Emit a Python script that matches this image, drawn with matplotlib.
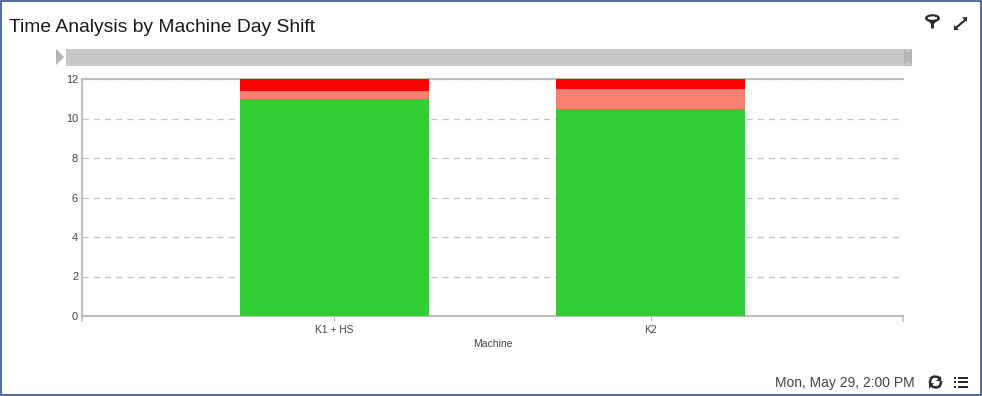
import matplotlib
matplotlib.use("Agg")
import matplotlib.pyplot as plt
from matplotlib.patches import Rectangle, Polygon, Ellipse

plt.rcParams['font.family'] = ['Liberation Sans', 'DejaVu Sans']

machines = ["K1 + HS", "K2"]
green_vals = [11.0, 10.5]
salmon_vals = [0.37, 1.0]
red_vals = [0.63, 0.5]
y_ticks = [0, 2, 4, 6, 8, 10, 12]

W, H = 982, 396
fig = plt.figure(figsize=(W / 100, H / 100), dpi=100, facecolor='white')

# pixel-space overlay for the widget furniture
ov = fig.add_axes([0, 0, 1, 1], zorder=0)
ov.set_xlim(0, W)
ov.set_ylim(H, 0)
ov.axis('off')

frame = '#34548a'
ov.add_patch(Rectangle((0.7, 0.7), W - 1.4, H - 1.4, fill=False, ec=frame, lw=1.2))

ov.text(9, 32, "Time Analysis by Machine Day Shift", fontsize=13.9, color='#1a1a1a',
        va='baseline', ha='left')
ov.text(915, 387, "Mon, May 29, 2:00 PM", fontsize=10.0, color='#444444',
        va='baseline', ha='right')

# range slider
gray = '#c8c8c8'
ov.add_patch(Rectangle((66, 48.5), 846, 17, fc=gray, ec='none'))
ov.add_patch(Polygon([(56, 49), (64, 57), (56, 65)], fc='#b4b4b4', ec='none'))
ov.add_patch(Rectangle((904, 48.5), 8, 17, fc='#b4b4b4', ec='none'))
ov.add_patch(Polygon([(904, 49), (908, 53), (912, 49)], fc=gray, ec='none'))
ov.add_patch(Polygon([(904, 65), (908, 61), (912, 65)], fc=gray, ec='none'))

icon = '#2b2b2b'
# filter icon
ov.add_patch(Ellipse((932.5, 18.2), 12.5, 5.6, fc='none', ec=icon, lw=1.7))
ov.add_patch(Polygon([(926.5, 19), (938.5, 19), (934, 24), (934, 28.5), (931, 28.5), (931, 24)],
                     fc=icon, ec='none'))
ov.add_patch(Ellipse((932.5, 18.2), 9, 3.2, fc='white', ec='none'))
# expand icon
ov.plot([957, 965], [27, 20], color=icon, lw=1.5)
ov.add_patch(Polygon([(954, 30), (954, 25), (959, 30)], fc=icon, ec='none'))
ov.add_patch(Polygon([(967, 17), (967, 22), (962, 17.5)], fc=icon, ec='none'))
# refresh icon
ov.plot([930, 931, 934, 938, 940], [382, 378, 376.5, 377, 379], color=icon, lw=1.8)
ov.plot([941, 940, 937, 933, 931], [382, 386, 387.5, 387, 385], color=icon, lw=1.8)
ov.add_patch(Polygon([(941.5, 375.5), (941.5, 381), (936.5, 381)], fc=icon, ec='none'))
ov.add_patch(Polygon([(929.5, 388.5), (929.5, 383), (934.5, 383)], fc=icon, ec='none'))
# list icon
for yy in (377.5, 382, 386.5):
    ov.add_patch(Rectangle((954, yy - 1), 2.4, 2.4, fc=icon, ec='none'))
    ov.add_patch(Rectangle((958, yy - 0.8), 10, 1.8, fc=icon, ec='none'))

# chart
L, R, T, B = 82, 903, 79, 316
ax = fig.add_axes([L / W, 1 - B / H, (R - L) / W, (B - T) / H], zorder=1)
ax.patch.set_alpha(0)
x = list(range(len(machines)))
w = 0.598
bot2 = [g + s for g, s in zip(green_vals, salmon_vals)]
ax.bar(x, green_vals, w, color='#32cd32', zorder=3)
ax.bar(x, salmon_vals, w, bottom=green_vals, color='#fa8072', zorder=3)
ax.bar(x, red_vals, w, bottom=bot2, color='#ff0000', zorder=3)

ax.set_xlim(-0.799, 1.799)
ax.set_ylim(0, 12)
ax.set_xticks(x, machines)
ax.set_yticks(y_ticks)
ax.grid(axis='y', color='#c4c4c4', ls=(0, (5, 4)), lw=0.9, zorder=1)
ax.set_axisbelow(True)
ax.spines['right'].set_visible(False)
for s in ('left', 'top', 'bottom'):
    ax.spines[s].set_color('#bdbdbd')
    ax.spines[s].set_linewidth(1.5)
    ax.spines[s].set_zorder(2)
ax.tick_params(axis='x', length=3.5, width=0.8, color='#bdbdbd', labelsize=7.4,
               labelcolor='#444444', pad=3)
ax.tick_params(axis='y', length=0, labelsize=7.9, labelcolor='#444444', pad=2.8)
ax.set_xlabel("Machine", fontsize=7.5, color='#444444', labelpad=3)

# axis end ticks
ov.plot([82, 82], [316, 321], color='#bdbdbd', lw=1.1, zorder=5)
ov.plot([903, 903], [316, 321], color='#bdbdbd', lw=1.1, zorder=5)

fig.savefig("out.png", dpi=100, facecolor='white')
